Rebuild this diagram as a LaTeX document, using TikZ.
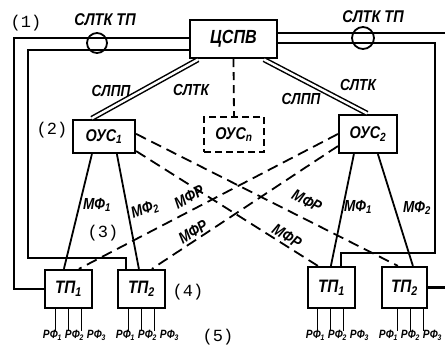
\documentclass[tikz,border=0pt]{standalone}
\usepackage{fontspec}
\newfontfamily\drawfont{Liberation Sans}[FakeStretch=0.85]
\newfontfamily\numfont{Liberation Mono}
\tikzset{
  unit/.style={draw, line width=2.2pt, inner sep=0pt,
    font=\drawfont\bfseries\itshape\fontsize{17}{17}\selectfont},
  link/.style={line width=2.4pt},
  wire/.style={line width=1.8pt},
  radio/.style={line width=1.8pt, dash pattern=on 11pt off 6pt},
  trunk/.style={double, double distance=2.4pt, line width=1.5pt,
    shorten <=1pt, shorten >=1pt},
  lab/.style={inner sep=0pt, font=\drawfont\bfseries\itshape\fontsize{16}{16}\selectfont},
  num/.style={inner sep=0pt, font=\numfont\fontsize{17}{17}\selectfont},
  rf/.style={inner sep=0pt, anchor=north,
    font=\drawfont\bfseries\itshape\fontsize{12}{12}\selectfont},
}
\begin{document}
\begin{tikzpicture}[x=1pt,y=-1pt]
  \useasboundingbox (0,0) rectangle (445,358);
  % Central station
  \node[unit, minimum width=87pt, minimum height=38pt,
    font=\drawfont\bfseries\itshape\fontsize{19}{19}\selectfont] (cspv) at (233.5,39) {ЦСПВ};
  % Control nodes
  \node[unit, minimum width=62pt, minimum height=33pt] (ous1) at (104,136.5) {ОУС\textsubscript{1}};
  \node[unit, dash pattern=on 7pt off 4pt, minimum width=60pt, minimum height=35pt] (ousn) at (234,134.5) {ОУС\textsubscript{\textit{n}}};
  \node[unit, minimum width=58pt, minimum height=38pt] (ous2) at (368,134) {ОУС\textsubscript{2}};
  % Terminal points
  \node[unit, minimum width=47pt, minimum height=38pt, font=\drawfont\bfseries\itshape\fontsize{18}{18}\selectfont] (tpa) at (68.5,289) {ТП\textsubscript{1}};
  \node[unit, minimum width=47pt, minimum height=38pt, font=\drawfont\bfseries\itshape\fontsize{18}{18}\selectfont] (tpb) at (141.5,289) {ТП\textsubscript{2}};
  \node[unit, minimum width=47pt, minimum height=41pt, font=\drawfont\bfseries\itshape\fontsize{18}{18}\selectfont] (tpc) at (331.5,287.5) {ТП\textsubscript{1}};
  \node[unit, minimum width=45pt, minimum height=41pt, font=\drawfont\bfseries\itshape\fontsize{18}{18}\selectfont] (tpd) at (404.5,287.5) {ТП\textsubscript{2}};

  % Trunk lines to the control nodes
  \draw[trunk] ([xshift=10pt]cspv.south west) -- ([xshift=19pt]ous1.north west);
  \draw[trunk] ([xshift=-15pt]cspv.south east) -- (ous2.north);
  \draw[radio, dash pattern=on 8pt off 5pt] (cspv.south) -- (ousn.north);
  \node[lab] (slpp1) at (111,91) {СЛПП};
  \node[lab] (sltk1) at (191,90) {СЛТК};
  \node[lab] (slpp2) at (301,99) {СЛПП};
  \node[lab] (sltk2) at (358,85) {СЛТК};

  % Direct lines to the terminal points
  \coordinate (li) at (28,258);
  \coordinate (ri) at (435,253);
  \coordinate (ro) at (445,33);
  \draw[link] ([yshift=1pt]cspv.west) -- ++(-175,0) |- (tpa.west);
  \draw[link] ([yshift=-11pt]cspv.west) -| (li) -| ([xshift=9pt]tpb.north west);
  \draw[link] ([yshift=-4pt]cspv.east) -| (ri) -| ([xshift=34pt]tpc.north west);
  \draw[link] ([yshift=6pt]cspv.east) -- (ro);
  \draw[link] (tpd.east) -- (tpd.east -| ro);
  \node[draw, circle, line width=1.8pt, minimum size=20pt, inner sep=0pt] (ringl) at (97,43) {};
  \node[draw, circle, line width=1.8pt, minimum size=22pt, inner sep=0pt] (ringr) at (363,38) {};
  \node[lab, font=\drawfont\bfseries\itshape\fontsize{17}{17}\selectfont] (sltktpl) at (105,20) {СЛТК ТП};
  \node[lab, font=\drawfont\bfseries\itshape\fontsize{17}{17}\selectfont] (sltktpr) at (373,17) {СЛТК ТП};

  % Wire links
  \draw[wire] ([xshift=20pt]ous1.south west) -- ([xshift=20pt]tpa.north west);
  \draw[wire] ([xshift=45pt]ous1.south west) -- ([xshift=22pt]tpb.north west);
  \draw[wire] ([xshift=16pt]ous2.south west) -- ([xshift=24pt]tpc.north west);
  \draw[wire] ([xshift=40pt]ous2.south west) -- ([xshift=32pt]tpd.north west);
  \node[lab] (mfa1) at (97,205) {МФ\textsubscript{1}};
  \node[lab, rotate=20] (mfa2) at (145,210) {МФ\textsubscript{2}};
  \node[lab] (mfb1) at (358,207) {МФ\textsubscript{1}};
  \node[lab] (mfb2) at (417,208) {МФ\textsubscript{2}};

  % Radio links
  \draw[radio] ([yshift=-15pt]ous1.north east) -- ([xshift=17pt]tpd.north west);
  \draw[radio] ([yshift=3pt]ous1.south east) -- ([xshift=11pt]tpc.north west);
  \draw[radio] (ous2.west) -- ([xshift=35pt]tpa.north west);
  \draw[radio] ([yshift=8pt]ous2.south west) -- ([xshift=35pt]tpb.north west);
  \node[lab, rotate=28] (mfr1) at (189,197) {МФР};
  \node[lab, rotate=32] (mfr2) at (193,232) {МФР};
  \node[lab, rotate=-27] (mfr3) at (307,201) {МФР};
  \node[lab, rotate=-31] (mfr4) at (287,236) {МФР};

  % Outputs of the terminal points
  \foreach \t/\s in {tpa/0,tpb/0,tpc/-1,tpd/6}{
    \foreach \i/\d/\l in {1/-13/-16,2/0/6,3/13/28}{
      \draw[wire] ([xshift=\s pt+\d pt]\t.south) -- ++(0,22);
      \node[rf] (\t-rf\i) at ([xshift=\l pt, yshift=-21pt]\t.south) {РФ\textsubscript{\i}};
    }
  }

  % Reference numbers
  \node[num] (n1) at (26,23) {(1)};
  \node[num] (n2) at (52,130) {(2)};
  \node[num] (n3) at (103,233) {(3)};
  \node[num] (n4) at (188,292) {(4)};
  \node[num] (n5) at (218,337) {(5)};
\end{tikzpicture}
\end{document}
